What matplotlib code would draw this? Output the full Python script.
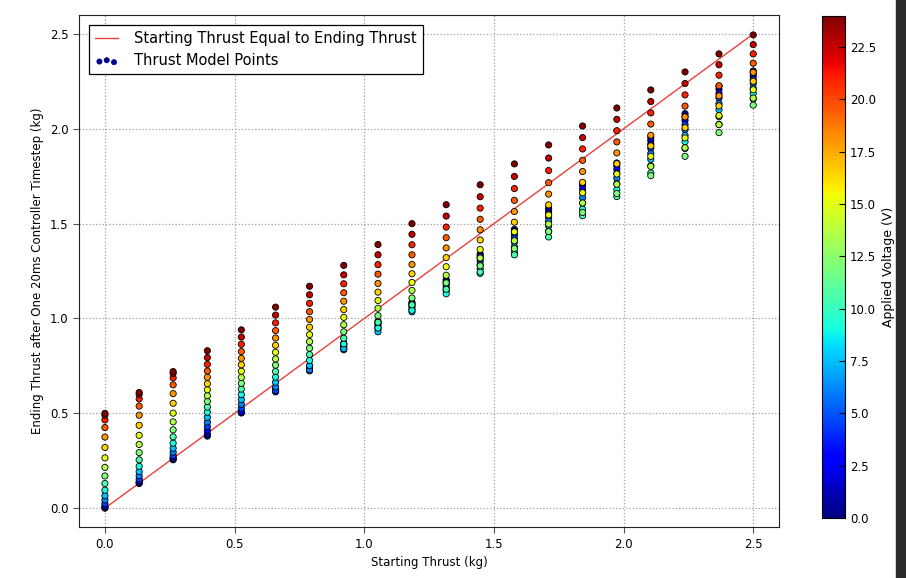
import numpy as np
import matplotlib.pyplot as plt
from matplotlib.patches import Rectangle

# applied voltages (V) used for every starting thrust column
voltages = [0.0, 1.5, 3.0, 4.5, 6.0, 7.5, 9.0, 10.5, 12.0, 13.5, 15.0, 16.5, 18.0, 19.5, 21.0, 22.5, 24.0]

# starting thrust values (kg)
starting_thrust = [0.0, 0.132, 0.263, 0.395, 0.526, 0.658, 0.789, 0.921, 1.053, 1.184,
                   1.316, 1.447, 1.579, 1.711, 1.842, 1.974, 2.105, 2.237, 2.368, 2.5]

# ending thrust (kg) for each starting thrust, one value per voltage
col_00 = [0.000, 0.004, 0.012, 0.025, 0.043, 0.066, 0.095, 0.130, 0.170, 0.215, 0.265, 0.320, 0.375, 0.425, 0.465, 0.490, 0.500]
col_01 = [0.130, 0.134, 0.142, 0.154, 0.171, 0.193, 0.221, 0.255, 0.293, 0.336, 0.384, 0.437, 0.490, 0.538, 0.576, 0.600, 0.610]
col_02 = [0.255, 0.259, 0.266, 0.278, 0.295, 0.316, 0.343, 0.376, 0.413, 0.455, 0.501, 0.553, 0.604, 0.650, 0.687, 0.711, 0.720]
col_03 = [0.380, 0.392, 0.410, 0.431, 0.454, 0.479, 0.506, 0.533, 0.563, 0.593, 0.624, 0.656, 0.690, 0.723, 0.758, 0.794, 0.830]
col_04 = [0.505, 0.502, 0.508, 0.526, 0.548, 0.573, 0.599, 0.628, 0.658, 0.689, 0.722, 0.756, 0.790, 0.826, 0.864, 0.902, 0.940]
col_05 = [0.625, 0.620, 0.613, 0.619, 0.639, 0.664, 0.691, 0.721, 0.754, 0.787, 0.822, 0.859, 0.897, 0.936, 0.977, 1.018, 1.060]
col_06 = [0.750, 0.744, 0.736, 0.724, 0.729, 0.752, 0.779, 0.810, 0.843, 0.878, 0.915, 0.954, 0.995, 1.036, 1.080, 1.125, 1.170]
col_07 = [0.870, 0.864, 0.856, 0.847, 0.835, 0.841, 0.866, 0.896, 0.930, 0.967, 1.006, 1.047, 1.091, 1.136, 1.183, 1.230, 1.280]
col_08 = [0.985, 0.978, 0.970, 0.959, 0.945, 0.930, 0.950, 0.980, 1.015, 1.054, 1.095, 1.139, 1.185, 1.234, 1.284, 1.336, 1.390]
col_09 = [1.085, 1.079, 1.071, 1.061, 1.049, 1.035, 1.043, 1.072, 1.108, 1.148, 1.190, 1.236, 1.285, 1.336, 1.389, 1.444, 1.500]
col_10 = [1.205, 1.198, 1.188, 1.177, 1.163, 1.148, 1.130, 1.154, 1.188, 1.228, 1.273, 1.321, 1.372, 1.426, 1.482, 1.540, 1.600]
col_11 = [1.340, 1.330, 1.317, 1.302, 1.283, 1.262, 1.238, 1.245, 1.278, 1.319, 1.364, 1.414, 1.468, 1.523, 1.582, 1.642, 1.705]
col_12 = [1.470, 1.458, 1.443, 1.424, 1.403, 1.378, 1.350, 1.336, 1.369, 1.410, 1.457, 1.508, 1.564, 1.623, 1.685, 1.749, 1.815]
col_13 = [1.580, 1.568, 1.552, 1.534, 1.513, 1.488, 1.460, 1.430, 1.458, 1.498, 1.546, 1.599, 1.656, 1.716, 1.780, 1.846, 1.915]
col_14 = [1.715, 1.701, 1.683, 1.662, 1.637, 1.609, 1.577, 1.542, 1.559, 1.609, 1.663, 1.718, 1.775, 1.834, 1.894, 1.954, 2.015]
col_15 = [1.820, 1.805, 1.787, 1.765, 1.740, 1.711, 1.679, 1.643, 1.659, 1.708, 1.762, 1.816, 1.873, 1.931, 1.990, 2.050, 2.110]
col_16 = [1.955, 1.939, 1.920, 1.897, 1.870, 1.839, 1.805, 1.767, 1.753, 1.802, 1.855, 1.910, 1.966, 2.025, 2.084, 2.144, 2.205]
col_17 = [2.080, 2.064, 2.045, 2.022, 1.996, 1.966, 1.932, 1.896, 1.855, 1.900, 1.952, 2.006, 2.063, 2.120, 2.179, 2.239, 2.300]
col_18 = [2.225, 2.208, 2.187, 2.162, 2.133, 2.101, 2.064, 2.024, 1.980, 2.022, 2.070, 2.121, 2.174, 2.227, 2.283, 2.338, 2.395]
col_19 = [2.305, 2.292, 2.277, 2.259, 2.238, 2.214, 2.187, 2.157, 2.125, 2.162, 2.206, 2.251, 2.298, 2.346, 2.395, 2.444, 2.495]

ending_thrust = [col_00, col_01, col_02, col_03, col_04, col_05, col_06, col_07, col_08, col_09,
                 col_10, col_11, col_12, col_13, col_14, col_15, col_16, col_17, col_18, col_19]

fig = plt.figure(figsize=(9.06, 5.78), dpi=100)
ax = fig.add_axes([0.0872, 0.088, 0.7728, 0.886])
cax = fig.add_axes([0.9073, 0.104, 0.0254, 0.869])

# reference line
ax.plot([0, 2.5], [0, 2.5], color='#e8413c', lw=1, label='Starting Thrust Equal to Ending Thrust', zorder=2)

# model points, coloured by voltage
for x, ys in zip(starting_thrust, ending_thrust):
    sc = ax.scatter([x] * len(ys), ys, c=voltages, cmap='jet', vmin=0, vmax=24,
                    s=20, edgecolors='black', linewidths=0.6, zorder=3)

# proxy handle for the legend
ax.scatter([], [], c='#00008f', s=14, edgecolors='#00008f', linewidths=0.5, label='Thrust Model Points')

ax.set_xlim(-0.1, 2.6)
ax.set_ylim(-0.1, 2.6)
ax.set_xticks([0.0, 0.5, 1.0, 1.5, 2.0, 2.5])
ax.set_yticks([0.0, 0.5, 1.0, 1.5, 2.0, 2.5])
ax.grid(True, color='#a0a0a0', linestyle=':', linewidth=0.9)
ax.tick_params(labelsize=8.5, direction='out', length=4, color='#555555')
ax.set_xlabel('Starting Thrust (kg)', fontsize=8.5)
ax.set_ylabel('Ending Thrust after One 20ms Controller Timestep (kg)', fontsize=8.5)
for s in ax.spines.values():
    s.set_color('#222222')

leg = ax.legend(loc='upper left', fontsize=10.5, scatterpoints=3, fancybox=False,
                framealpha=1, edgecolor='black', borderaxespad=0.7,
                handlelength=1.6, handletextpad=1.1)
leg.get_frame().set_linewidth(0.9)

cb = fig.colorbar(sc, cax=cax)
cb.set_ticks([0.0, 2.5, 5.0, 7.5, 10.0, 12.5, 15.0, 17.5, 20.0, 22.5])
cb.ax.tick_params(labelsize=8.5, direction='in', length=4)
cb.set_label('Applied Voltage (V)', fontsize=9)
cb.outline.set_linewidth(0.8)

# dark strip at the right edge of the screenshot
fig.patches.append(Rectangle((0.989, 0), 0.011, 1, transform=fig.transFigure,
                             color='#2a2a2a', zorder=0))

fig.savefig('out.png', dpi=100)
